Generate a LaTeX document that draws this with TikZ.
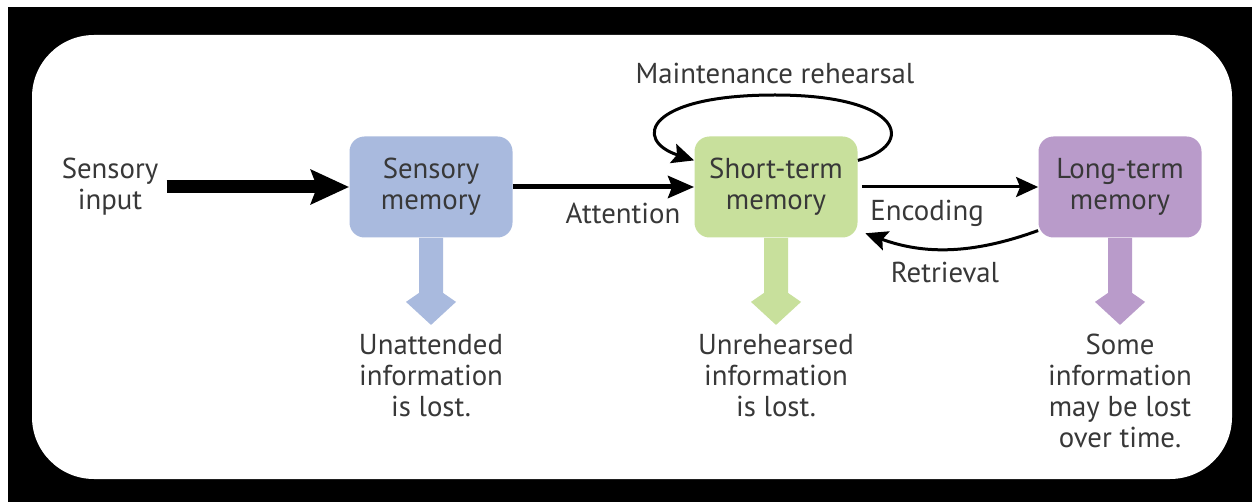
\documentclass[tikz,border=0pt]{standalone}
\usepackage{fontspec}
\setmainfont{PT Sans}
\usetikzlibrary{arrows.meta}
\definecolor{smblue}{HTML}{A9BADE}
\definecolor{stmgreen}{HTML}{C8E09C}
\definecolor{ltmpurple}{HTML}{B99BCA}
\definecolor{txtgray}{HTML}{383838}
\begin{document}
\begin{tikzpicture}[x=0.5pt,y=-0.5pt,
  every node/.style={font=\fontsize{14.4}{15.5}\selectfont,text=txtgray,align=center,inner sep=0pt},
  memory/.style={rounded corners=7.5pt,minimum width=81.5pt,minimum height=50.5pt},
  inputarrow/.style={line width=6.5pt,-{Stealth[length=19pt,width=17pt,inset=3pt]}},
  attnarrow/.style={line width=2.5pt,-{Stealth[length=13pt,width=11pt,inset=2pt]}},
  thinarrow/.style={line width=1.5pt,-{Stealth[length=11pt,width=10pt,inset=2pt]}}]
\useasboundingbox (0,0) rectangle (1252,502);
\fill[black] (8,7) rectangle (1252,502);
\fill[white,rounded corners=31pt] (32,35) rectangle (1232,479);
\node[memory,fill=smblue] (sm) at (431,187) {Sensory\\memory};
\node[memory,fill=stmgreen] (stm) at (776,187) {Short-term\\memory};
\node[memory,fill=ltmpurple] (ltm) at (1120,187) {Long-term\\memory};
\node (in) at (110,187) {Sensory\\input};
\node (att) at (623,213) {Attention};
\node (enc) at (927,213) {Encoding};
\node (ret) at (945,272) {Retrieval};
\node (mr) at (775,73) {Maintenance rehearsal};
\node (smlost) at (431,376) {Unattended\\information\\is lost.};
\node (stmlost) at (776,376) {Unrehearsed\\information\\is lost.};
\node (ltmlost) at (1120,391) {Some\\information\\may be lost\\over time.};
\draw[inputarrow,shorten <=4pt] (in.east) -- (sm.west);
\draw[attnarrow] (sm.east) -- (stm.west);
\draw[thinarrow,shorten <=2pt] (stm.east) -- (ltm.west);
\draw[thinarrow,shorten >=4pt] (ltm.208) to[bend left=20] (stm.-28);
\draw[thinarrow] (stm.18) .. controls +(58,-15) and +(130,0) .. (775,95) .. controls +(-130,0) and +(-61,-20) .. (stm.162);
\foreach \n/\c in {sm/smblue,stm/stmgreen,ltm/ltmpurple}
  \fill[\c] ([xshift=-6pt]\n.south) -- ++(0,55) -- ++(-13,9) -- ++(25,23) -- ++(25,-23) -- ++(-13,-9) -- ++(0,-55) -- cycle;
\end{tikzpicture}
\end{document}
